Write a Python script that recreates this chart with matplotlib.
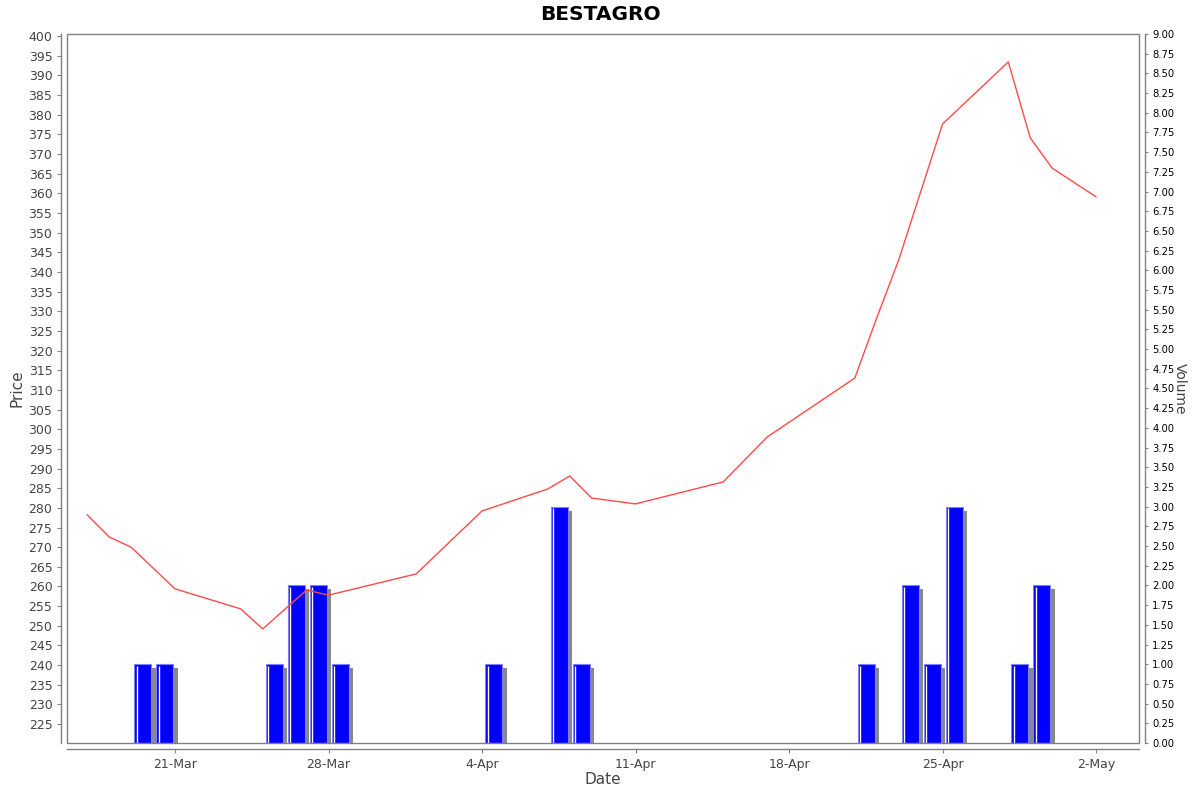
import numpy as np
import matplotlib
matplotlib.use("Agg")
import matplotlib.pyplot as plt
import matplotlib.dates as mdates
from matplotlib.patches import Rectangle
import datetime as dt

# price series (closing price per trading day)
price_dates = ["2022-03-17", "2022-03-18", "2022-03-19", "2022-03-21", "2022-03-24",
               "2022-03-25", "2022-03-27", "2022-03-28", "2022-04-01", "2022-04-04",
               "2022-04-07", "2022-04-08", "2022-04-09", "2022-04-11", "2022-04-15",
               "2022-04-17", "2022-04-21", "2022-04-22", "2022-04-23", "2022-04-25",
               "2022-04-28", "2022-04-29", "2022-04-30", "2022-05-02"]
prices = [278.2, 272.6, 270.0, 259.4, 254.3, 249.2, 259.1, 257.8, 263.2, 279.2,
          284.8, 288.1, 282.5, 281.0, 286.6, 298.0, 313.0, 328.3, 343.0, 377.6,
          393.4, 374.1, 366.4, 359.1]

# volume series
vol_dates = ["2022-03-19", "2022-03-20", "2022-03-25", "2022-03-26", "2022-03-27",
             "2022-03-28", "2022-04-04", "2022-04-07", "2022-04-08", "2022-04-21",
             "2022-04-23", "2022-04-24", "2022-04-25", "2022-04-28", "2022-04-29"]
volumes = [1, 1, 1, 2, 2, 1, 1, 3, 1, 1, 2, 1, 3, 1, 2]

x_ticks = ["2022-03-21", "2022-03-28", "2022-04-04", "2022-04-11",
           "2022-04-18", "2022-04-25", "2022-05-02"]

def to_num(ds):
    return mdates.date2num([dt.datetime.strptime(d, "%Y-%m-%d") for d in ds])

px = to_num(price_dates)
vx = to_num(vol_dates)
tx = to_num(x_ticks)

axcol = "#808080"
txtcol = "#444444"

fig = plt.figure(figsize=(12, 7.92), dpi=100)
ax = fig.add_axes([67/1200, 1-743/792, 1072/1200, 709/792])
ax2 = ax.twinx()

# volume bars with shadow
day_px = 1072 / 48.885
start = vx + 0.14
w = 0.78
ax2.bar(start + 4.5/day_px, np.array(volumes) - 0.05, width=w, align="edge",
        color="#888888", zorder=1)
ax2.bar(start, volumes, width=w, align="edge", color="#0000ff",
        edgecolor="#8080ff", linewidth=0.8, zorder=2)
ax2.vlines(start + 2.6/day_px, 0, np.array(volumes) - 0.02, color="white",
           linewidth=1, zorder=3)
ax2.set_ylim(0, 9.0)
vt = np.arange(0, 9.01, 0.25)
ax2.set_yticks(vt)
ax2.set_yticklabels([f"{v:.2f}" for v in vt])
ax2.set_ylabel("Volume", rotation=270, labelpad=9, fontsize=10, color=txtcol)

# price line
ax.plot(px, prices, color="#ff4a4a", linewidth=1, zorder=5)
ax.set_ylim(220.2, 400.5)
ax.set_yticks(np.arange(225, 401, 5))
ax.set_ylabel("Price", fontsize=11, color=txtcol, labelpad=3)

ax.set_xlim(to_num(["2022-03-21"])[0] - 4.925, to_num(["2022-03-21"])[0] + 43.96)
ax.set_xticks(tx)
ax.set_xticklabels([dt.datetime.strptime(d, "%Y-%m-%d").strftime("%-d-%b") for d in x_ticks])
ax.set_xlabel("Date", fontsize=11, color=txtcol, labelpad=1)

ax.set_zorder(ax2.get_zorder() + 1)
ax.patch.set_visible(False)

for a in (ax, ax2):
    for s in a.spines.values():
        s.set_visible(False)
ax.tick_params(colors=axcol, labelcolor=txtcol, length=3, width=0.8, labelsize=9)
ax2.tick_params(colors=axcol, labelcolor="black", length=2, width=0.8, labelsize=7.2)

ax.spines["left"].set_visible(True)
ax.spines["left"].set_position(("outward", 4))
ax.spines["bottom"].set_visible(True)
ax.spines["bottom"].set_position(("outward", 4))
ax2.spines["right"].set_visible(True)
ax2.spines["right"].set_position(("outward", 4))
for s in (ax.spines["left"], ax.spines["bottom"], ax2.spines["right"]):
    s.set_color(axcol)
    s.set_linewidth(1)

ax.add_patch(Rectangle((0, 0), 1, 1, transform=ax.transAxes, fill=False,
                       edgecolor=axcol, linewidth=1, clip_on=False, zorder=10))

fig.suptitle("BESTAGRO", fontsize=14.5, fontweight="bold", y=0.994)

fig.savefig("out.png", dpi=100)
